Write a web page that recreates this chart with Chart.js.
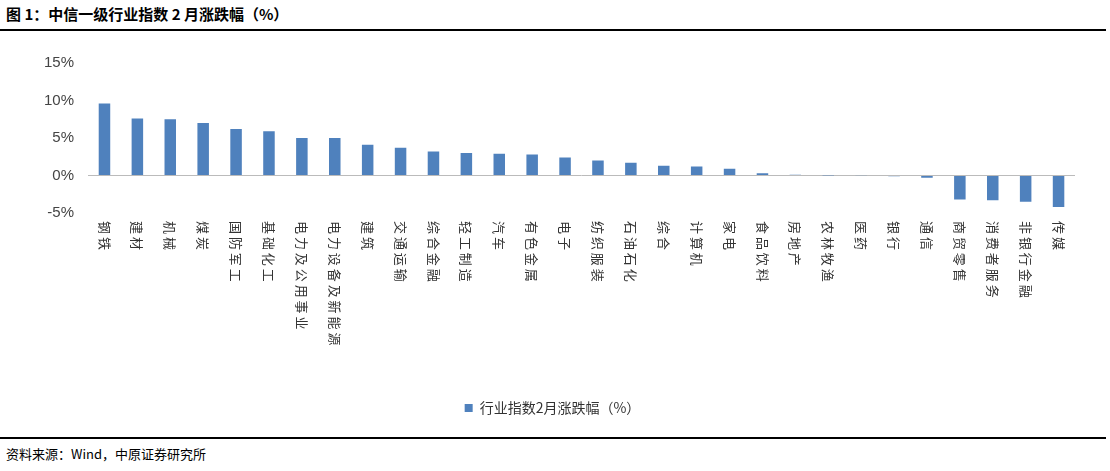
<!DOCTYPE html><html><head><meta charset="utf-8">
<script src="https://cdn.jsdelivr.net/npm/chart.js@4"></script>
<style>
body{margin:0;width:1110px;height:471px;background:#fff;font-family:"Noto Sans CJK SC",sans-serif;position:relative;overflow:hidden}
#t{position:absolute;left:6px;top:3px;font-size:15px;font-weight:bold;color:#000}
#l1{position:absolute;left:0;top:29px;width:1106px;border-top:2px solid #000}
#l2{position:absolute;left:0;top:437px;width:1106px;border-top:2px solid #000}
#s{position:absolute;left:6px;top:444px;font-size:13px;color:#000}
#c{position:absolute;left:0;top:40px;width:1100px;height:385px}
</style></head><body>
<div id="t">图 1：中信一级行业指数 2 月涨跌幅（%）</div><div id="l1"></div>
<div id="c"><canvas id="cv"></canvas></div>
<div id="l2"></div><div id="s">资料来源：Wind，中原证券研究所</div>
<script>
const categories=["钢铁","建材","机械","煤炭","国防军工","基础化工","电力及公用事业","电力设备及新能源","建筑","交通运输","综合金融","轻工制造","汽车","有色金属","电子","纺织服装","石油石化","综合","计算机","家电","食品饮料","房地产","农林牧渔","医药","银行","通信","商贸零售","消费者服务","非银行金融","传媒"];
const values=[9.6,7.6,7.5,7.0,6.2,5.9,5.0,5.0,4.1,3.7,3.2,3.0,2.9,2.8,2.4,2.0,1.7,1.3,1.2,0.9,0.3,0.1,0.02,-0.05,-0.1,-0.3,-3.2,-3.3,-3.5,-4.2];
const seriesName="行业指数2月涨跌幅（%）";
const labelPlugin={id:'vlabels',afterDraw(ch){const x=ch.scales.x,ctx=ch.ctx;ctx.save();ctx.font='13px "Noto Sans CJK SC"';ctx.fillStyle='#333';ctx.textBaseline='middle';ctx.textAlign='left';
categories.forEach((c,i)=>{const px=x.getPixelForValue(i);ctx.save();ctx.translate(px,ch.chartArea.bottom+8);ctx.rotate(Math.PI/2);ctx.fillText(c.split('').join(' '),0,0);ctx.restore();});ctx.restore();}};
new Chart(document.getElementById('cv'),{type:'bar',plugins:[labelPlugin],
data:{labels:categories,datasets:[{label:seriesName,data:values,backgroundColor:'#4f81bd',barPercentage:0.35,categoryPercentage:1}]},
options:{responsive:true,maintainAspectRatio:false,animation:false,
layout:{padding:{left:30,right:25,top:14}},
plugins:{legend:{position:'bottom',labels:{boxWidth:8,boxHeight:8,font:{size:14,family:'"Noto Sans CJK SC"'},color:'#333'}},tooltip:{enabled:false}},
scales:{x:{grid:{display:false,drawTicks:false},border:{display:false},ticks:{display:false},afterFit(s){s.height=178;}},
y:{min:-5,max:15,ticks:{stepSize:5,callback:v=>v+'%',font:{size:15},color:'#444',padding:14},grid:{drawTicks:false,color:c=>c.tick.value===0?'#bbb':'transparent'},border:{display:false}}}}});
</script></body></html>
